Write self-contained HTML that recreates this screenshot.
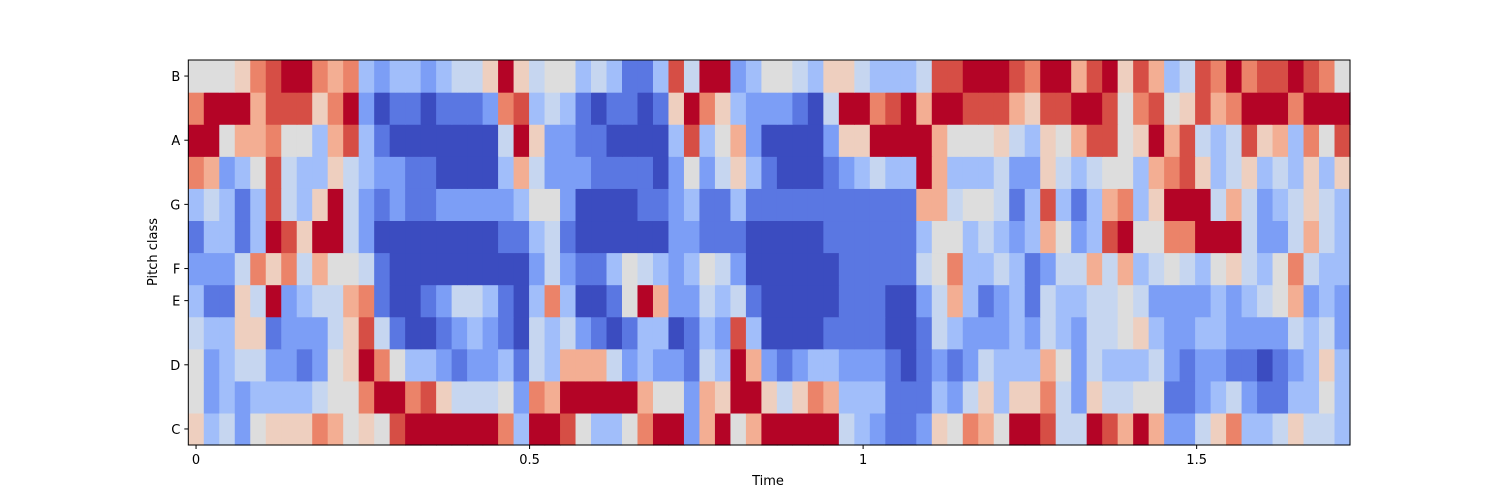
<!DOCTYPE html>
<html><head><meta charset="utf-8"><style>
body{margin:0;background:#fff;}
svg{display:block;font-family:"DejaVu Sans","Liberation Sans",sans-serif;}
</style></head><body>
<svg id="chart" width="1500" height="500" xmlns="http://www.w3.org/2000/svg">
<rect width="1500" height="500" fill="#fff"/>
<g id="cells"></g>
<rect x="188.3" y="60" width="1161.7" height="385" fill="none" stroke="#000" stroke-width="1"/>
<g id="axes"></g>
<text x="768" y="485" text-anchor="middle" font-size="13">Time</text>
<text transform="translate(157,252) rotate(-90)" text-anchor="middle" font-size="13">Pitch class</text>
</svg>
<script>
// Chroma values per pitch class, 75 frames each; each char = value*10 (A = 1.0)
const rowC  = "63425666875659A"+"AAAAA83AA953358"+"AA27A57AAAAA432"+"11265875AA944A9"+"7A7224683346443";
const rowCs = "523233334558AA8"+"964445287AAAAA7"+"55276AA64687333"+"111324636684264"+"455112342113353";
const rowD  = "52344221256A853"+"321223143777423"+"22143A721233222"+"101212433375243"+"334212211012363";
const rowDs = "433661222469410"+"012321043421013"+"301329300001111"+"001432223243244"+"563223322224342";
const rowE  = "31164A234478100"+"12443103830015A"+"722434100000111"+"002473123143344"+"542222323457232";
const rowF  = "222486847554100"+"000000024211354"+"323542000000111"+"114583343124474"+"734543564358433";
const rowFs = "13313A96AA42000"+"000001134100000"+"022111000001111"+"113553432375239"+"A5588AAA4224743";
const rowG  = "343139436A42121"+"122222355200001"+"123113111111111"+"117745541393137"+"836AAA474234643";
const rowGs = "872359433643221"+"100003742221111"+"025246310001234"+"33A733342264345"+"537896346343636";
const rowA  = "AA5778553793100"+"000004A62211000"+"03935720000266A"+"AAA755564365799"+"56A794349673859";
const rowAs = "8AAA799968A2011"+"011128934310110"+"16A863222104AA8"+"9A7AA9997699AA9"+"58956978AAA8AAA";
const rowB  = "555689AA8783233"+"23446A645534311"+"394AA2355436643"+"33499AAA98AA79A"+"6973498A899A985";
const pitchLabels = ["C","D","E","F","G","A","B"];
const pitchIdx = [0,2,4,5,7,9,11];
const xTicks = [0,0.5,1,1.5];
const xTickLabels = ["0","0.5","1","1.5"];
const nFrames = 75;
const frameDur = 512/22050;

const values = [rowC,rowCs,rowD,rowDs,rowE,rowF,rowFs,rowG,rowGs,rowA,rowAs,rowB]
  .map(r=>r.split("").map(c=>c==="A"?1:parseInt(c,10)/10));
const stops=[[0,[59,76,192]],[0.125,[98,130,234]],[0.25,[141,176,254]],[0.375,[192,212,245]],[0.5,[221,221,221]],[0.625,[242,203,183]],[0.75,[244,154,123]],[0.875,[222,96,77]],[1,[180,4,38]]];
function cmap(v){
  for(let i=1;i<stops.length;i++){ if(v<=stops[i][0]){const a=stops[i-1],b=stops[i];const t=(v-a[0])/(b[0]-a[0]);
    return "rgb("+a[1].map((c,k)=>Math.round(c+(b[1][k]-c)*t)).join(",")+")";}}
  return "rgb(180,4,38)";
}
const X0=188.3,X1=1350,Y0=60,Y1=445;
const cw=(X1-X0)/nFrames, rh=(Y1-Y0)/12;
const xScale=t=>X0+(t/frameDur+0.5)*cw;
const yCenter=p=>Y1-(p+0.5)*rh;
const NS="http://www.w3.org/2000/svg";
const g=document.getElementById("cells");
values.forEach((row,p)=>row.forEach((v,f)=>{
  const r=document.createElementNS(NS,"rect");
  r.setAttribute("x",(X0+f*cw).toFixed(2));
  r.setAttribute("y",(yCenter(p)-rh/2).toFixed(2));
  r.setAttribute("width",(cw+0.6).toFixed(2));
  r.setAttribute("height",(rh+0.6).toFixed(2));
  r.setAttribute("fill",cmap(v));
  
  
  g.appendChild(r);
}));
const ax=document.getElementById("axes");
xTicks.forEach((t,i)=>{
  const x=xScale(t);
  const l=document.createElementNS(NS,"line");
  l.setAttribute("x1",x);l.setAttribute("x2",x);l.setAttribute("y1",Y1);l.setAttribute("y2",Y1+4);l.setAttribute("stroke","#000");
  
  
  ax.appendChild(l);
  const tx=document.createElementNS(NS,"text");
  tx.setAttribute("x",x);tx.setAttribute("y",Y1+19);tx.setAttribute("text-anchor","middle");tx.setAttribute("font-size","13");
  tx.textContent=xTickLabels[i];
  
  
  ax.appendChild(tx);
});
pitchIdx.forEach((p,i)=>{
  const y=yCenter(p);
  const l=document.createElementNS(NS,"line");
  l.setAttribute("x1",X0-4);l.setAttribute("x2",X0);l.setAttribute("y1",y);l.setAttribute("y2",y);l.setAttribute("stroke","#000");
  
  
  ax.appendChild(l);
  const tx=document.createElementNS(NS,"text");
  tx.setAttribute("x",X0-8);tx.setAttribute("y",y+5);tx.setAttribute("text-anchor","end");tx.setAttribute("font-size","13");
  tx.textContent=pitchLabels[i];
  
  
  ax.appendChild(tx);
});
</script>
</body></html>
